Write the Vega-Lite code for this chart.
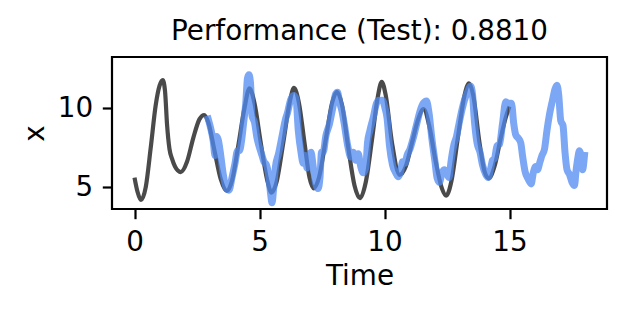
{
  "$schema": "https://vega.github.io/schema/vega-lite/v6.json",
  "autosize": {"type": "none"},
  "padding": {"left": 112, "top": 57, "right": 21, "bottom": 106},
  "width": 495,
  "height": 152,
  "background": "white",
  "config": {
    "view": {"stroke": "black", "strokeWidth": 2.2},
    "font": "DejaVu Sans"
  },
  "title": {
    "text": "Performance (Test): 0.8810",
    "font": "DejaVu Sans",
    "fontSize": 27.8,
    "fontWeight": "normal",
    "color": "black",
    "anchor": "middle",
    "baseline": "alphabetic",
    "offset": -11
  },
  "datasets": {
    "truth": [
      {"t": 0.0, "v": 5.6}, {"t": 0.12, "v": 4.7}, {"t": 0.26, "v": 4.18}, {"t": 0.45, "v": 5.0},
      {"t": 0.65, "v": 7.5}, {"t": 0.85, "v": 10.2}, {"t": 1.0, "v": 11.4}, {"t": 1.13, "v": 11.77},
      {"t": 1.22, "v": 11.1}, {"t": 1.3, "v": 9.0}, {"t": 1.4, "v": 7.4}, {"t": 1.5, "v": 6.8},
      {"t": 1.62, "v": 6.3}, {"t": 1.85, "v": 5.95}, {"t": 2.1, "v": 6.6}, {"t": 2.35, "v": 8.1},
      {"t": 2.6, "v": 9.3}, {"t": 2.79, "v": 9.56}, {"t": 2.95, "v": 9.1}, {"t": 3.2, "v": 7.3},
      {"t": 3.45, "v": 5.5}, {"t": 3.7, "v": 4.75}, {"t": 3.9, "v": 5.4}, {"t": 4.15, "v": 7.6},
      {"t": 4.4, "v": 10.0}, {"t": 4.6, "v": 11.25}, {"t": 4.8, "v": 10.3}, {"t": 5.05, "v": 7.8},
      {"t": 5.3, "v": 5.5}, {"t": 5.48, "v": 4.65}, {"t": 5.68, "v": 5.3}, {"t": 5.95, "v": 7.8},
      {"t": 6.2, "v": 10.3}, {"t": 6.38, "v": 11.27}, {"t": 6.58, "v": 10.3}, {"t": 6.8, "v": 7.8},
      {"t": 7.0, "v": 5.6}, {"t": 7.17, "v": 4.92}, {"t": 7.38, "v": 5.6}, {"t": 7.65, "v": 8.0},
      {"t": 7.9, "v": 10.3}, {"t": 8.1, "v": 11.03}, {"t": 8.3, "v": 10.2}, {"t": 8.55, "v": 7.5},
      {"t": 8.8, "v": 5.1}, {"t": 9.02, "v": 4.3}, {"t": 9.25, "v": 5.3}, {"t": 9.5, "v": 8.0},
      {"t": 9.72, "v": 10.6}, {"t": 9.89, "v": 11.65}, {"t": 10.05, "v": 10.8}, {"t": 10.3, "v": 7.8},
      {"t": 10.6, "v": 5.77}, {"t": 10.85, "v": 6.3}, {"t": 11.1, "v": 7.8}, {"t": 11.35, "v": 9.3},
      {"t": 11.56, "v": 9.94}, {"t": 11.8, "v": 8.8}, {"t": 12.05, "v": 6.6}, {"t": 12.3, "v": 4.9},
      {"t": 12.47, "v": 4.45}, {"t": 12.68, "v": 5.4}, {"t": 12.95, "v": 8.3}, {"t": 13.2, "v": 10.8},
      {"t": 13.38, "v": 11.57}, {"t": 13.55, "v": 10.8}, {"t": 13.8, "v": 7.8}, {"t": 14.0, "v": 6.0},
      {"t": 14.17, "v": 5.55}, {"t": 14.4, "v": 6.3}, {"t": 14.65, "v": 8.1}, {"t": 14.85, "v": 9.4},
      {"t": 15.0, "v": 10.1}
    ],
    "pred": [
      {"t": 2.95, "v": 9.3}, {"t": 3.05, "v": 8.7}, {"t": 3.15, "v": 7.9}, {"t": 3.22, "v": 7.0},
      {"t": 3.28, "v": 8.2}, {"t": 3.35, "v": 8.0}, {"t": 3.45, "v": 7.0}, {"t": 3.55, "v": 5.8},
      {"t": 3.68, "v": 4.9}, {"t": 3.78, "v": 4.8}, {"t": 3.9, "v": 5.6}, {"t": 4.02, "v": 6.5},
      {"t": 4.12, "v": 7.3}, {"t": 4.2, "v": 7.3}, {"t": 4.28, "v": 7.9}, {"t": 4.36, "v": 9.0},
      {"t": 4.45, "v": 10.3}, {"t": 4.52, "v": 11.9}, {"t": 4.58, "v": 12.1}, {"t": 4.64, "v": 11.6},
      {"t": 4.7, "v": 9.5}, {"t": 4.8, "v": 9.1}, {"t": 4.9, "v": 8.1}, {"t": 5.0, "v": 7.5},
      {"t": 5.1, "v": 7.0}, {"t": 5.18, "v": 6.6}, {"t": 5.28, "v": 6.4}, {"t": 5.37, "v": 5.7},
      {"t": 5.45, "v": 4.5}, {"t": 5.5, "v": 4.0}, {"t": 5.56, "v": 4.8}, {"t": 5.64, "v": 6.3},
      {"t": 5.76, "v": 7.1}, {"t": 5.9, "v": 8.2}, {"t": 6.04, "v": 9.3}, {"t": 6.12, "v": 9.7},
      {"t": 6.24, "v": 10.5}, {"t": 6.36, "v": 10.8}, {"t": 6.46, "v": 10.6}, {"t": 6.55, "v": 8.6},
      {"t": 6.66, "v": 7.2}, {"t": 6.75, "v": 6.5}, {"t": 6.82, "v": 7.0}, {"t": 6.9, "v": 6.2},
      {"t": 6.98, "v": 6.9}, {"t": 7.06, "v": 7.2}, {"t": 7.14, "v": 6.4}, {"t": 7.25, "v": 5.2},
      {"t": 7.34, "v": 4.9}, {"t": 7.42, "v": 5.6}, {"t": 7.48, "v": 7.2}, {"t": 7.55, "v": 7.2},
      {"t": 7.65, "v": 8.2}, {"t": 7.8, "v": 9.0}, {"t": 7.93, "v": 10.0}, {"t": 8.05, "v": 10.9},
      {"t": 8.12, "v": 11.0}, {"t": 8.2, "v": 10.4}, {"t": 8.3, "v": 9.8}, {"t": 8.4, "v": 8.9},
      {"t": 8.53, "v": 7.6}, {"t": 8.65, "v": 6.9}, {"t": 8.75, "v": 7.2}, {"t": 8.85, "v": 6.7},
      {"t": 8.95, "v": 7.1}, {"t": 9.05, "v": 6.3}, {"t": 9.15, "v": 5.9}, {"t": 9.25, "v": 6.2},
      {"t": 9.32, "v": 7.8}, {"t": 9.42, "v": 8.6}, {"t": 9.55, "v": 9.4}, {"t": 9.68, "v": 10.3},
      {"t": 9.78, "v": 10.5}, {"t": 9.92, "v": 10.5}, {"t": 10.02, "v": 10.0}, {"t": 10.1, "v": 9.4},
      {"t": 10.2, "v": 7.6}, {"t": 10.32, "v": 6.4}, {"t": 10.45, "v": 5.9}, {"t": 10.55, "v": 5.65},
      {"t": 10.65, "v": 6.0}, {"t": 10.72, "v": 6.6}, {"t": 10.82, "v": 6.5}, {"t": 10.9, "v": 7.0},
      {"t": 11.02, "v": 7.4}, {"t": 11.15, "v": 8.1}, {"t": 11.29, "v": 9.0}, {"t": 11.42, "v": 9.8},
      {"t": 11.55, "v": 10.3}, {"t": 11.68, "v": 10.45}, {"t": 11.78, "v": 9.7}, {"t": 11.9, "v": 8.0},
      {"t": 12.02, "v": 6.6}, {"t": 12.1, "v": 5.6}, {"t": 12.2, "v": 5.3}, {"t": 12.3, "v": 5.9},
      {"t": 12.4, "v": 6.1}, {"t": 12.5, "v": 5.8}, {"t": 12.58, "v": 5.6}, {"t": 12.66, "v": 6.6},
      {"t": 12.78, "v": 7.7}, {"t": 12.88, "v": 8.2}, {"t": 12.98, "v": 9.0}, {"t": 13.1, "v": 9.9},
      {"t": 13.2, "v": 10.5}, {"t": 13.32, "v": 11.0}, {"t": 13.44, "v": 11.4}, {"t": 13.52, "v": 10.9},
      {"t": 13.58, "v": 9.5}, {"t": 13.7, "v": 7.8}, {"t": 13.82, "v": 7.2}, {"t": 13.92, "v": 6.4},
      {"t": 14.05, "v": 5.8}, {"t": 14.15, "v": 5.6}, {"t": 14.25, "v": 6.2}, {"t": 14.32, "v": 6.7},
      {"t": 14.4, "v": 6.8}, {"t": 14.5, "v": 7.6}, {"t": 14.6, "v": 7.7}, {"t": 14.72, "v": 9.0},
      {"t": 14.85, "v": 10.4}, {"t": 14.95, "v": 10.3}, {"t": 15.08, "v": 10.3}, {"t": 15.17, "v": 9.0},
      {"t": 15.25, "v": 8.3}, {"t": 15.35, "v": 8.1}, {"t": 15.45, "v": 7.8}, {"t": 15.52, "v": 7.0},
      {"t": 15.62, "v": 6.0}, {"t": 15.75, "v": 5.5}, {"t": 15.87, "v": 5.2}, {"t": 15.95, "v": 5.9},
      {"t": 16.05, "v": 6.3}, {"t": 16.12, "v": 6.1}, {"t": 16.22, "v": 6.6}, {"t": 16.3, "v": 7.0},
      {"t": 16.4, "v": 7.4}, {"t": 16.5, "v": 8.6}, {"t": 16.6, "v": 9.6}, {"t": 16.72, "v": 10.5},
      {"t": 16.82, "v": 11.2}, {"t": 16.9, "v": 11.45}, {"t": 16.97, "v": 10.8}, {"t": 17.05, "v": 9.2},
      {"t": 17.14, "v": 8.9}, {"t": 17.22, "v": 7.2}, {"t": 17.3, "v": 6.1}, {"t": 17.4, "v": 5.8},
      {"t": 17.5, "v": 5.3}, {"t": 17.6, "v": 5.1}, {"t": 17.66, "v": 6.0}, {"t": 17.72, "v": 6.7},
      {"t": 17.8, "v": 7.3}, {"t": 17.86, "v": 7.0}, {"t": 17.92, "v": 6.1}, {"t": 18.0, "v": 7.0}
    ]
  },
  "encoding": {
    "x": {
      "field": "t", "type": "quantitative",
      "scale": {"domain": [-0.9, 18.9], "nice": false, "zero": false},
      "axis": {
        "title": "Time", "values": [0, 5, 10, 15], "format": "d",
        "grid": false, "domain": false,
        "tickSize": 9.7, "tickWidth": 2.2, "tickColor": "black",
        "labelPadding": 9.7, "labelFont": "DejaVu Sans", "labelFontSize": 27.8, "labelColor": "black",
        "labelFlush": false,
        "titleFont": "DejaVu Sans", "titleFontSize": 27.8, "titleFontWeight": "normal", "titleColor": "black",
        "titleBaseline": "alphabetic", "titleY": 75
      }
    },
    "y": {
      "field": "v", "type": "quantitative",
      "scale": {"domain": [3.61, 13.23], "nice": false, "zero": false},
      "axis": {
        "title": "x", "values": [5, 10], "format": "d",
        "grid": false, "domain": false,
        "tickSize": 9.7, "tickWidth": 2.2, "tickColor": "black",
        "labelPadding": 9.7, "labelFont": "DejaVu Sans", "labelFontSize": 27.8, "labelColor": "black",
        "labelFlush": false,
        "titleFont": "DejaVu Sans", "titleFontSize": 27.8, "titleFontWeight": "normal", "titleColor": "black",
        "titleBaseline": "alphabetic", "titleAngle": -90, "titleX": -69, "titleY": 76
      }
    }
  },
  "layer": [
    {
      "data": {"name": "truth"},
      "mark": {"type": "line", "color": "#4a4a4a", "strokeWidth": 4.2, "interpolate": "monotone"}
    },
    {
      "data": {"name": "pred"},
      "mark": {"type": "line", "color": "#4f8af0", "opacity": 0.75, "strokeWidth": 7, "interpolate": "monotone", "strokeCap": "square"}
    }
  ]
}
